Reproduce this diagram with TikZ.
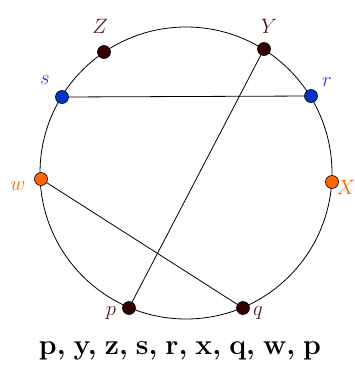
\documentclass[tikz,border=0pt]{standalone}
\usepackage{amsmath}
\begin{document}
\begin{tikzpicture}[x=1pt,y=-1pt,
  dot/.style={circle,draw=black,line width=0.6pt,inner sep=0pt,minimum size=13pt},
  lbl/.style={font=\fontsize{21}{25}\selectfont},
  chord/.style={line width=0.8pt}]
\definecolor{darkred}{RGB}{51,0,0}
\definecolor{lbrown}{RGB}{85,25,25}
\definecolor{myblue}{RGB}{0,51,204}
\definecolor{lblue}{RGB}{40,60,230}
\definecolor{myorange}{RGB}{255,102,0}
\useasboundingbox (0,0) rectangle (355,368);
\coordinate (O) at (186,173);
\draw[line width=0.8pt] (O) circle (146);
\node[dot,fill=darkred] (Z) at (104,52) {};
\node[dot,fill=darkred] (Y) at (264,49) {};
\node[dot,fill=myblue] (s) at (62,97) {};
\node[dot,fill=myblue] (r) at (311,96) {};
\node[dot,fill=myorange] (w) at (41,179) {};
\node[dot,fill=myorange] (X) at (332,182) {};
\node[dot,fill=darkred] (p) at (129,308) {};
\node[dot,fill=darkred] (q) at (243,308) {};
\draw[chord] (s) -- (r);
\draw[chord] (Y) -- (p);
\draw[chord] (w) -- (q);
\node[lbl,text=lbrown] (lZ) at (100,26) {$Z$};
\node[lbl,text=lbrown] (lY) at (269,26) {$Y$};
\node[lbl,text=lblue] (ls) at (45,80) {$s$};
\node[lbl,text=lblue] (lr) at (327,82) {$r$};
\node[lbl,text=myorange] (lw) at (18,186) {$w$};
\node[lbl,text=myorange] (lX) at (346,187) {$X$};
\node[lbl,text=lbrown] (lp) at (111,313) {$p$};
\node[lbl,text=lbrown] (lq) at (258,313) {$q$};
\node[font=\fontsize{28.5}{34}\selectfont\bfseries] (seq) at (180,351) {p,\hskip 0.28em y,\hskip 0.28em z,\hskip 0.28em s,\hskip 0.28em r,\hskip 0.28em x,\hskip 0.28em q,\hskip 0.28em w,\hskip 0.28em p};
\end{tikzpicture}
\end{document}
